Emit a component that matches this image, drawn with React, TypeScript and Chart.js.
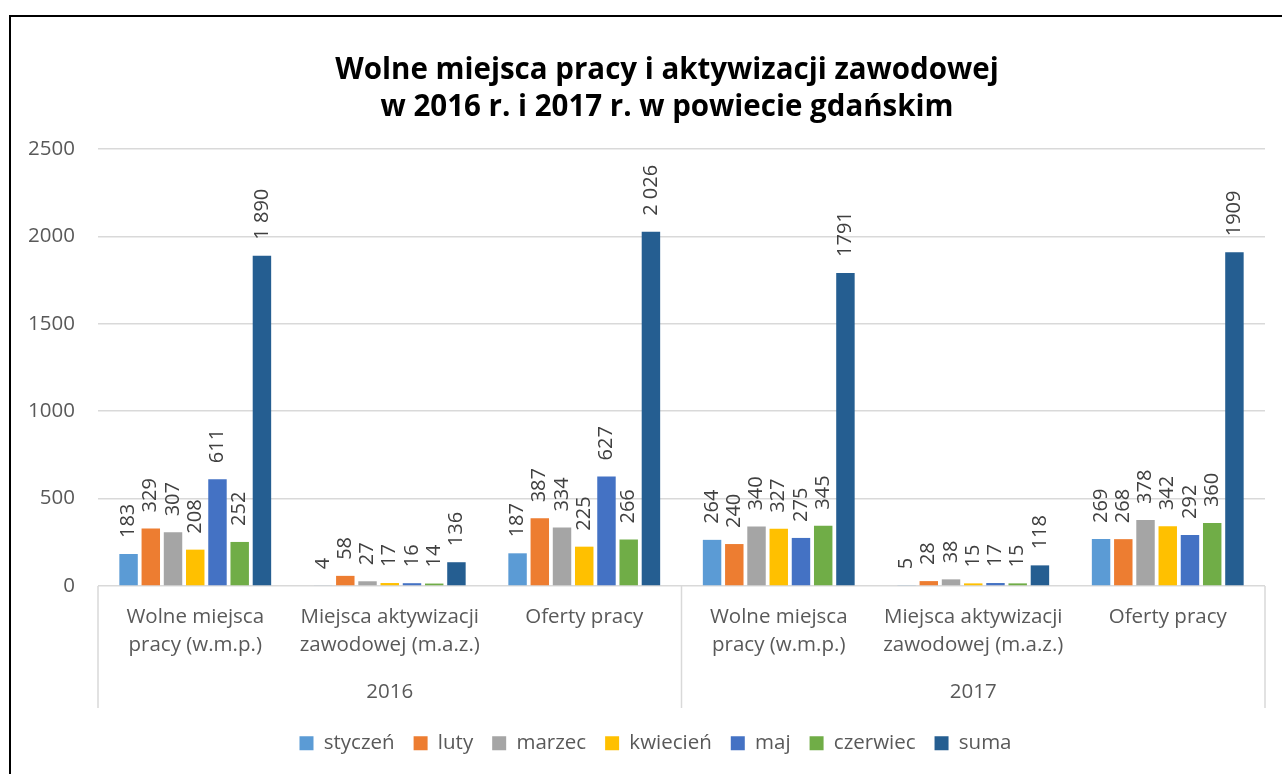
import React, { useEffect, useRef } from "react";
import { Chart, registerables } from "chart.js";
Chart.register(...registerables);

const titleLines = ["Wolne miejsca pracy i aktywizacji zawodowej", "w 2016 r. i 2017 r. w powiecie gdańskim"];
const categories: string[][] = [
  ["Wolne miejsca", "pracy (w.m.p.)"],
  ["Miejsca aktywizacji", "zawodowej (m.a.z.)"],
  ["Oferty pracy"],
  ["Wolne miejsca", "pracy (w.m.p.)"],
  ["Miejsca aktywizacji", "zawodowej (m.a.z.)"],
  ["Oferty pracy"],
];
const years = ["2016", "2017"];
const seriesNames = ["styczeń", "luty", "marzec", "kwiecień", "maj", "czerwiec", "suma"];
const seriesColors = ["#5B9BD5", "#ED7D31", "#A5A5A5", "#FFC000", "#4472C4", "#70AD47", "#255E91"];

const styczen = [183, 4, 187, 264, 5, 269];
const luty = [329, 58, 387, 240, 28, 268];
const marzec = [307, 27, 334, 340, 38, 378];
const kwiecien = [208, 17, 225, 327, 15, 342];
const maj = [611, 16, 627, 275, 17, 292];
const czerwiec = [252, 14, 266, 345, 15, 360];
const suma = [1890, 136, 2026, 1791, 118, 1909];
const sumaLabels = ["1 890", "136", "2 026", "1791", "118", "1909"];

const yMin = 0;
const yMax = 2500;
const yStep = 500;

const FONT = "'Open Sans', 'DejaVu Sans', sans-serif";
const TEXT = "#595959";
const GRID = "#D9D9D9";

const allSeries = [styczen, luty, marzec, kwiecien, maj, czerwiec, suma];

const titlePlugin = {
  id: "customTitle",
  afterDraw(chart: any) {
    const ctx = chart.ctx;
    ctx.save();
    ctx.fillStyle = "#000000";
    ctx.font = `bold 29.5px ${FONT}`;
    ctx.textAlign = "center";
    ctx.textBaseline = "middle";
    titleLines.forEach((t, i) => ctx.fillText(t, 667, 71 + i * 37));
    ctx.restore();
  },
};

const legendShiftPlugin = {
  id: "legendShift",
  afterLayout(chart: any) {
    if (chart.legend) {
      chart.legend.left += 13;
      chart.legend.right += 13;
    }
  },
};

const dataLabelPlugin = {
  id: "dataLabels",
  afterDatasetsDraw(chart: any) {
    const ctx = chart.ctx;
    ctx.save();
    ctx.fillStyle = "#404040";
    ctx.font = `20px ${FONT}`;
    ctx.textAlign = "left";
    ctx.textBaseline = "middle";
    chart.data.datasets.forEach((ds: any, di: number) => {
      const meta = chart.getDatasetMeta(di);
      meta.data.forEach((el: any, i: number) => {
        const label = ds.labelsText ? ds.labelsText[i] : String(ds.data[i]);
        ctx.save();
        ctx.translate(el.x, el.y - 16);
        ctx.rotate(-Math.PI / 2);
        ctx.fillText(label, 0, 0);
        ctx.restore();
      });
    });
    ctx.restore();
  },
};

const groupAxisPlugin = {
  id: "groupAxis",
  afterDraw(chart: any) {
    const ctx = chart.ctx;
    const x = chart.scales.x;
    const area = chart.chartArea;
    const n = categories.length;
    const per = n / years.length;
    ctx.save();
    ctx.strokeStyle = GRID;
    ctx.lineWidth = 1.5;
    const bounds: number[] = [];
    for (let g = 0; g <= years.length; g++) {
      let px: number;
      if (g === 0) px = area.left;
      else if (g === years.length) px = area.right;
      else {
        const a = x.getPixelForValue(g * per - 1);
        const b = x.getPixelForValue(g * per);
        px = (a + b) / 2;
      }
      bounds.push(px);
      ctx.beginPath();
      ctx.moveTo(px, area.bottom);
      ctx.lineTo(px, area.bottom + 122);
      ctx.stroke();
    }
    ctx.fillStyle = TEXT;
    ctx.font = `20.5px ${FONT}`;
    ctx.textAlign = "center";
    ctx.textBaseline = "middle";
    for (let g = 0; g < years.length; g++) {
      ctx.fillText(years[g], (bounds[g] + bounds[g + 1]) / 2, area.bottom + 106);
    }
    ctx.restore();
  },
};

export default function App() {
  const ref = useRef<HTMLCanvasElement | null>(null);
  useEffect(() => {
    if (!ref.current) return;
    const chart = new Chart(ref.current, {
      type: "bar",
      data: {
        labels: categories,
        datasets: seriesNames.map((name, i) => ({
          label: name,
          data: allSeries[i],
          backgroundColor: seriesColors[i],
          borderWidth: 0,
          categoryPercentage: 0.8,
          barPercentage: 0.83,
          labelsText: i === seriesNames.length - 1 ? sumaLabels : undefined,
        })) as any,
      },
      options: {
        animation: false,
        responsive: false,
        maintainAspectRatio: false,
        layout: { padding: { left: 20, right: 17, top: 149, bottom: 10.5 } },
        plugins: {
          title: { display: false },
          legend: {
            position: "bottom",
            labels: {
              color: TEXT,
              font: { family: FONT, size: 20.5 },
              boxWidth: 14,
              boxHeight: 14,
              padding: 19,
            },
          },
          tooltip: { enabled: false },
        },
        scales: {
          x: {
            grid: { display: false, drawTicks: false },
            border: { display: false },
            ticks: {
              color: TEXT,
              font: { family: FONT, size: 20.5, lineHeight: 1.34 },
              padding: 17.5,
              maxRotation: 0,
              autoSkip: false,
            },
            afterFit: (s: any) => {
              s.height = 128;
            },
          },
          y: {
            min: yMin,
            max: yMax,
            grid: { color: GRID, drawTicks: false, lineWidth: 1.5 },
            border: { display: false },
            ticks: {
              stepSize: yStep,
              color: TEXT,
              font: { family: FONT, size: 20.5 },
              padding: 23,
              callback: (v: any) => String(v),
            },
            afterFit: (s: any) => {
              s.width = 78;
            },
          },
        },
      },
      plugins: [legendShiftPlugin, dataLabelPlugin, groupAxisPlugin, titlePlugin],
    });
    return () => chart.destroy();
  }, []);

  return (
    <div style={{ position: "fixed", left: 0, top: 0, width: 1282, height: 774, background: "#fff" }}>
      <canvas ref={ref} width={1282} height={774} style={{ position: "absolute", left: 0, top: 0, width: 1282, height: 774 }} />
      <div
        style={{
          position: "absolute",
          left: 9,
          top: 15,
          width: 1400,
          height: 900,
          borderLeft: "2px solid #000",
          borderTop: "2px solid #000",
          pointerEvents: "none",
        }}
      />
    </div>
  );
}
